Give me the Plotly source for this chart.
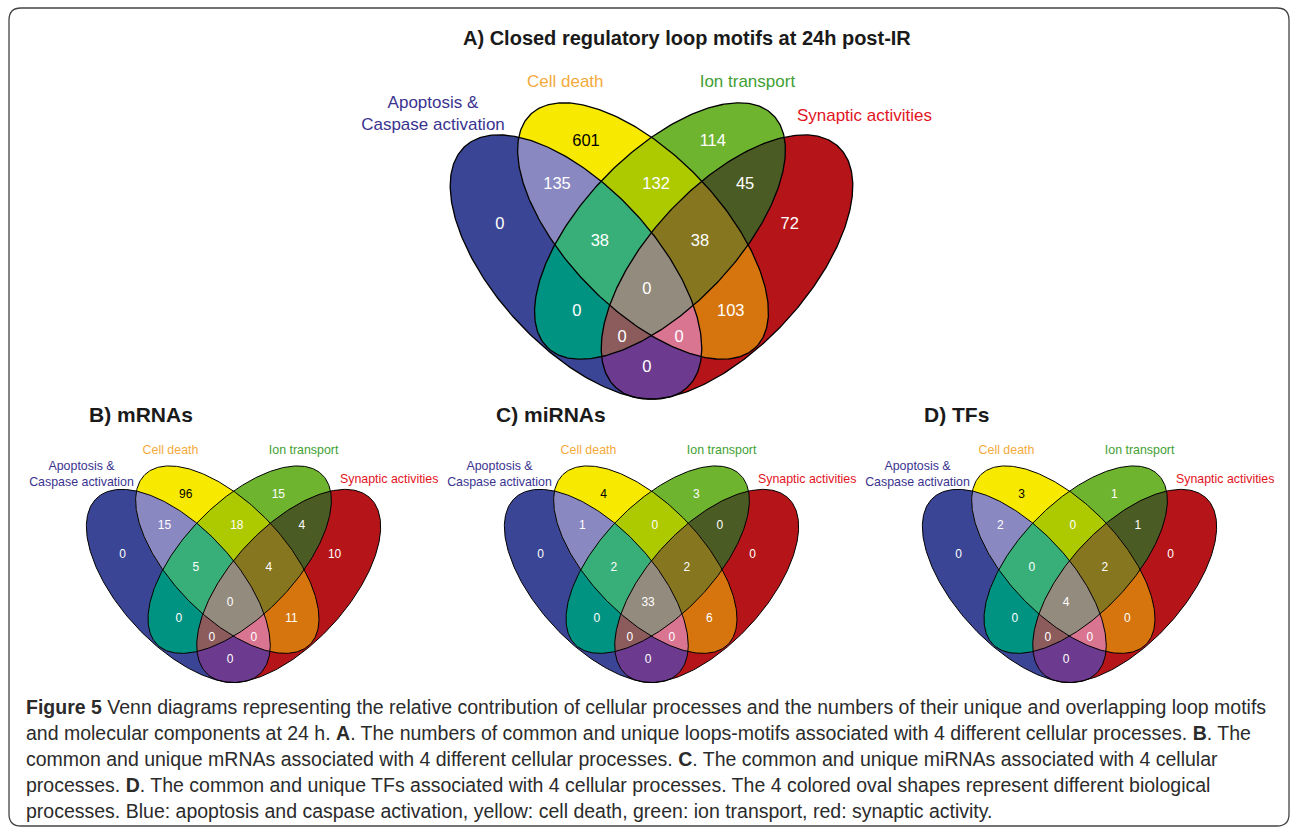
import numpy as np
import plotly.graph_objects as go

W, H = 1292, 831

# ---------------- data ----------------
categories = ["Apoptosis &<br>Caspase activation", "Cell death", "Ion transport", "Synaptic activities"]
category_colors = ["#3a3390", "#f4aa3c", "#3fa033", "#e2141e"]

# region order: B, Y, G, R, BY, YG, GR, BG, YR, BR, BYG, YGR, BGR, BYR, BYGR
region_sets = [(0,), (1,), (2,), (3,), (0, 1), (1, 2), (2, 3), (0, 2), (1, 3), (0, 3),
               (0, 1, 2), (1, 2, 3), (0, 2, 3), (0, 1, 3), (0, 1, 2, 3)]
region_colors = ["#3a4595", "#f7e900", "#6eb42f", "#b51419", "#8a88c1", "#adc900", "#4b5b24",
                 "#009381", "#d6750d", "#6c3b8f", "#38af78", "#85761f", "#8c5b5b", "#d97591", "#938b7d"]

loops_A = [0, 601, 114, 72, 135, 132, 45, 0, 103, 0, 38, 38, 0, 0, 0]
mrnas_B = [0, 96, 15, 10, 15, 18, 4, 0, 11, 0, 5, 4, 0, 0, 0]
mirnas_C = [0, 4, 3, 0, 1, 0, 0, 0, 6, 0, 2, 2, 0, 0, 33]
tfs_D = [0, 3, 1, 0, 2, 0, 1, 0, 0, 0, 0, 2, 0, 0, 4]

panel_titles = ["A) Closed regulatory loop motifs at 24h post-IR", "B) mRNAs", "C) miRNAs", "D) TFs"]

caption_lines = [
    "<b>Figure 5</b> Venn diagrams representing the relative contribution of cellular processes and the numbers of their unique and overlapping loop motifs",
    "and molecular components at 24 h. <b>A</b>. The numbers of common and unique loops-motifs associated with 4 different cellular processes. <b>B</b>. The",
    "common and unique mRNAs associated with 4 different cellular processes. <b>C</b>. The common and unique miRNAs associated with 4 cellular",
    "processes. <b>D</b>. The common and unique TFs associated with 4 cellular processes. The 4 colored oval shapes represent different biological",
    "processes. Blue: apoptosis and caspase activation, yellow: cell death, green: ion transport, red: synaptic activity.",
]

# ---------------- layout constants (unit frame, origin at top of blue oval on the axis, y down) ----------------
# (center u, center v, semi-major, semi-minor, angle deg; angle measured downward from +x)
ELLIPSES = [(-0.1638, 0.2907, 0.3557, 0.1735, 47.3),
            (-0.0184, 0.2126, 0.3514, 0.1670, 46.0),
            (0.0184, 0.2126, 0.3514, 0.1670, 134.0),
            (0.1638, 0.2907, 0.3557, 0.1735, 132.7)]
NUM_POS = [(-0.329, 0.200), (-0.142, 0.0195), (0.133, 0.0195), (0.300, 0.200), (-0.205, 0.113),
           (0.010, 0.113), (0.203, 0.113), (-0.162, 0.388), (0.172, 0.388), (-0.010, 0.510),
           (-0.112, 0.236), (0.105, 0.236), (-0.064, 0.445), (0.060, 0.445), (-0.010, 0.341)]
CAT_POS = [(None, -0.040), (-0.187, -0.109), (0.208, -0.109), (0.462, None)]

panels = [
    dict(values=loops_A, cx=651.5, top=133, s=461, tx=687, ty=38, tsize=20, nsize=16.5, csize=17,
         lw=1.3, au=-0.474, sv=-0.035),
    dict(values=mrnas_B, cx=233.5, top=488, s=337, tx=140.5, ty=414, tsize=21, nsize=12, csize=12.4,
         lw=1.0, au=-0.451, sv=-0.025),
    dict(values=mirnas_C, cx=651.5, top=488, s=337, tx=551, ty=414, tsize=21, nsize=12, csize=12.4,
         lw=1.0, au=-0.451, sv=-0.025),
    dict(values=tfs_D, cx=1069.5, top=488, s=337, tx=956.5, ty=414, tsize=21, nsize=12, csize=12.4,
         lw=1.0, au=-0.451, sv=-0.025),
]


def ellipse_pts(x, y, a, b, rot, n=360):
    r = np.deg2rad(rot)
    t = np.linspace(0, 2 * np.pi, n, endpoint=False)
    xs = x + a * np.cos(r) * np.cos(t) - b * np.sin(r) * np.sin(t)
    ys = y + a * np.sin(r) * np.cos(t) + b * np.cos(r) * np.sin(t)
    return list(zip(xs, ys))


def clip(subject, clipper):
    out = subject
    n = len(clipper)
    for i in range(n):
        if not out:
            break
        ax, ay = clipper[i]
        bx, by = clipper[(i + 1) % n]
        inp = out
        out = []

        def inside(p):
            return (bx - ax) * (p[1] - ay) - (by - ay) * (p[0] - ax) >= 0

        def inter(p, q):
            x1, y1 = p
            x2, y2 = q
            den = (x1 - x2) * (ay - by) - (y1 - y2) * (ax - bx)
            t = ((x1 - ax) * (ay - by) - (y1 - ay) * (ax - bx)) / den
            return (x1 + t * (x2 - x1), y1 + t * (y2 - y1))

        s = inp[-1]
        s_in = inside(s)
        for e in inp:
            e_in = inside(e)
            if e_in:
                if not s_in:
                    out.append(inter(s, e))
                out.append(e)
            elif s_in:
                out.append(inter(s, e))
            s, s_in = e, e_in
    return out


ell = [ellipse_pts(*p) for p in ELLIPSES]
draw_order = sorted(range(len(region_sets)), key=lambda k: len(region_sets[k]))
polys = {}
for k in draw_order:
    ss = region_sets[k]
    poly = ell[ss[0]]
    for j in ss[1:]:
        poly = clip(poly, ell[j])
    polys[k] = poly


def tf(p, u, v):
    return p["cx"] + np.asarray(u, dtype=float) * p["s"], p["top"] + np.asarray(v, dtype=float) * p["s"]


FONT = "Liberation Sans, Arial, Helvetica, sans-serif"
fig = go.Figure()
annotations = []
for p in panels:
    for k in draw_order:
        poly = polys[k]
        if len(poly) < 3:
            continue
        u = [q[0] for q in poly] + [poly[0][0]]
        v = [q[1] for q in poly] + [poly[0][1]]
        x, y = tf(p, u, v)
        fig.add_trace(go.Scatter(x=x, y=y, mode="lines", fill="toself", fillcolor=region_colors[k],
                                 line=dict(width=0, color=region_colors[k]), hoverinfo="skip"))
    for e in ell:
        u = [q[0] for q in e] + [e[0][0]]
        v = [q[1] for q in e] + [e[0][1]]
        x, y = tf(p, u, v)
        fig.add_trace(go.Scatter(x=x, y=y, mode="lines", line=dict(width=p["lw"], color="black"),
                                 hoverinfo="skip"))
    nx, ny = tf(p, [q[0] for q in NUM_POS], [q[1] for q in NUM_POS])
    fig.add_trace(go.Scatter(x=nx, y=ny, mode="text", text=[str(val) for val in p["values"]],
                             textfont=dict(family=FONT, size=p["nsize"],
                                           color=["black" if region_sets[i] == (1,) else "white"
                                                  for i in range(len(region_sets))]),
                             hoverinfo="skip"))
    cu = [p["au"], CAT_POS[1][0], CAT_POS[2][0], CAT_POS[3][0]]
    cv = [CAT_POS[0][1], CAT_POS[1][1], CAT_POS[2][1], p["sv"]]
    cx, cy = tf(p, cu, cv)
    fig.add_trace(go.Scatter(x=cx, y=cy, mode="text", text=categories,
                             textfont=dict(family=FONT, size=p["csize"], color=category_colors),
                             hoverinfo="skip"))

for p, t in zip(panels, panel_titles):
    annotations.append(dict(x=p["tx"], y=p["ty"], xref="x", yref="y", text="<b>%s</b>" % t, showarrow=False,
                            xanchor="center", yanchor="middle",
                            font=dict(family=FONT, size=p["tsize"], color="#1a1a1a")))

cap_y = [707, 733, 759, 785, 811]
for line, yy in zip(caption_lines, cap_y):
    annotations.append(dict(x=24, y=yy, xref="x", yref="y", text=line, showarrow=False,
                            xanchor="left", yanchor="middle",
                            font=dict(family=FONT, size=19.5, color="#2b2b2b")))

x0, y0, x1, y1, r = 9, 8, 1289, 826, 12
border = (f"M {x0+r},{y0} L {x1-r},{y0} Q {x1},{y0} {x1},{y0+r} L {x1},{y1-r} Q {x1},{y1} {x1-r},{y1} "
          f"L {x0+r},{y1} Q {x0},{y1} {x0},{y1-r} L {x0},{y0+r} Q {x0},{y0} {x0+r},{y0} Z")

fig.update_layout(
    width=W, height=H, margin=dict(l=0, r=0, t=0, b=0),
    paper_bgcolor="white", plot_bgcolor="white", showlegend=False,
    xaxis=dict(range=[0, W], visible=False, fixedrange=True),
    yaxis=dict(range=[H, 0], visible=False, fixedrange=True),
    annotations=annotations,
    shapes=[dict(type="path", path=border, xref="x", yref="y", line=dict(color="#444444", width=1.3))],
)

fig.write_html("out.html", config={"displayModeBar": False},
               post_script="document.body.style.margin='0px';")
